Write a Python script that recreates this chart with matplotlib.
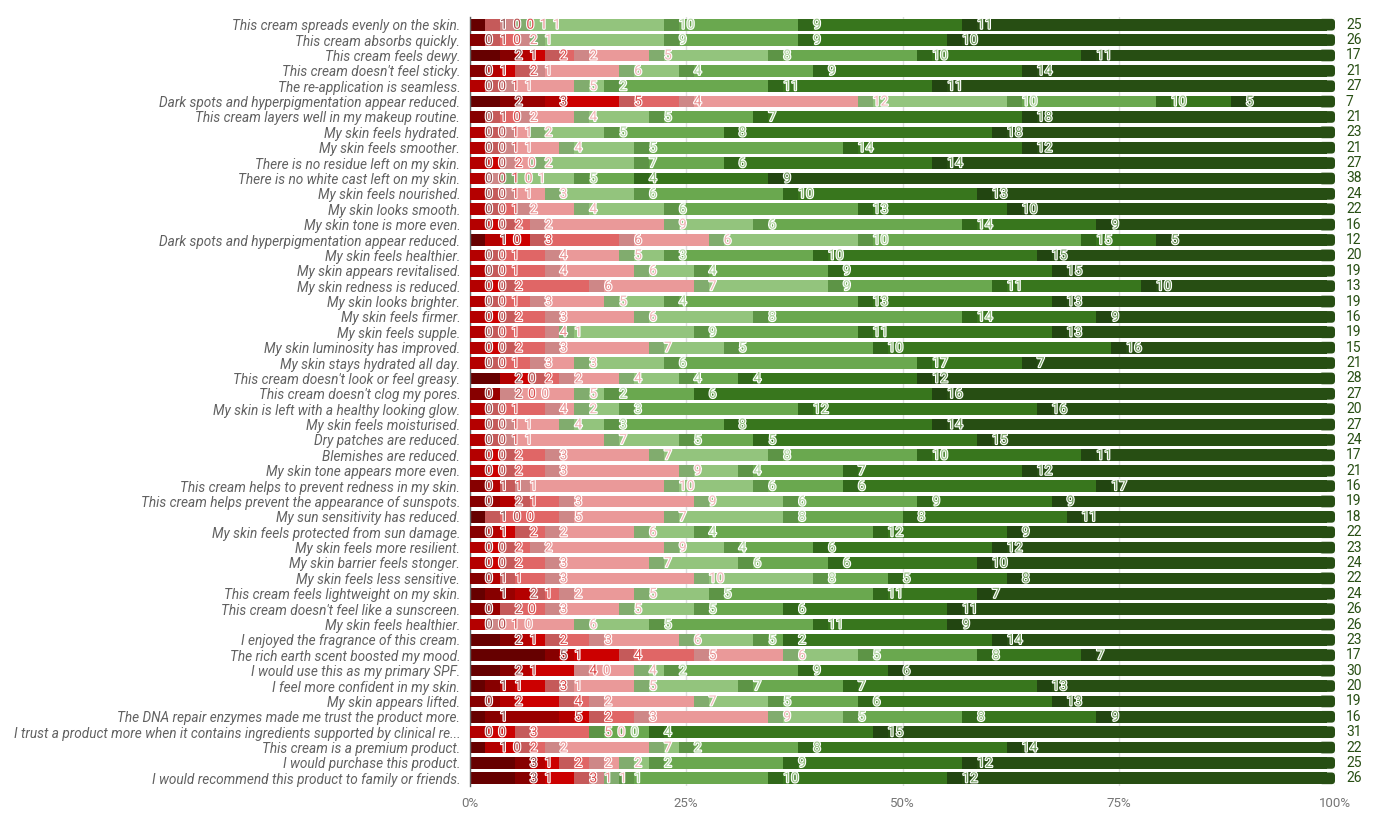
import numpy as np
import matplotlib.pyplot as plt
import matplotlib.patheffects as pe
from matplotlib.colors import to_rgb
from matplotlib.patches import FancyBboxPatch

plt.rcParams['font.family'] = ['Roboto', 'DejaVu Sans']

# statements, top to bottom
statements = [
    "This cream spreads evenly on the skin.",
    "This cream absorbs quickly.",
    "This cream feels dewy.",
    "This cream doesn't feel sticky.",
    "The re-application is seamless.",
    "Dark spots and hyperpigmentation appear reduced.",
    "This cream layers well in my makeup routine.",
    "My skin feels hydrated.",
    "My skin feels smoother.",
    "There is no residue left on my skin.",
    "There is no white cast left on my skin.",
    "My skin feels nourished.",
    "My skin looks smooth.",
    "My skin tone is more even.",
    "Dark spots and hyperpigmentation appear reduced.",
    "My skin feels healthier.",
    "My skin appears revitalised.",
    "My skin redness is reduced.",
    "My skin looks brighter.",
    "My skin feels firmer.",
    "My skin feels supple.",
    "My skin luminosity has improved.",
    "My skin stays hydrated all day.",
    "This cream doesn't look or feel greasy.",
    "This cream doesn't clog my pores.",
    "My skin is left with a healthy looking glow.",
    "My skin feels moisturised.",
    "Dry patches are reduced.",
    "Blemishes are reduced.",
    "My skin tone appears more even.",
    "This cream helps to prevent redness in my skin.",
    "This cream helps prevent the appearance of sunspots.",
    "My sun sensitivity has reduced.",
    "My skin feels protected from sun damage.",
    "My skin feels more resilient.",
    "My skin barrier feels stonger.",
    "My skin feels less sensitive.",
    "This cream feels lightweight on my skin.",
    "This cream doesn't feel like a sunscreen.",
    "My skin feels healthier.",
    "I enjoyed the fragrance of this cream.",
    "The rich earth scent boosted my mood.",
    "I would use this as my primary SPF.",
    "I feel more confident in my skin.",
    "My skin appears lifted.",
    "The DNA repair enzymes made me trust the product more.",
    "I trust a product more when it contains ingredients supported by clinical re...",
    "This cream is a premium product.",
    "I would purchase this product.",
    "I would recommend this product to family or friends.",
]

# number of answers per score (1 = worst ... 9 = best), one value per statement
score_1 = [1, 0, 2, 0, 0, 2, 0, 0, 0, 0, 0, 0, 0, 0, 1, 0, 0, 0, 0, 0, 0, 0, 0, 2, 0,
           0, 0, 0, 0, 0, 0, 0, 1, 0, 0, 0, 0, 1, 0, 0, 2, 5, 2, 1, 0, 1, 0, 1, 3, 3]
score_2 = [0, 1, 1, 1, 0, 3, 1, 0, 0, 0, 0, 0, 0, 0, 0, 0, 0, 0, 0, 0, 0, 0, 0, 0, 2,
           0, 0, 0, 0, 0, 1, 2, 0, 1, 0, 0, 1, 2, 2, 0, 1, 1, 1, 1, 2, 5, 0, 0, 1, 1]
score_3 = [0, 0, 2, 2, 1, 5, 0, 1, 1, 2, 1, 1, 1, 2, 3, 1, 1, 2, 1, 2, 1, 2, 1, 2, 0,
           1, 1, 1, 2, 2, 1, 1, 0, 2, 2, 2, 1, 1, 0, 1, 2, 4, 4, 3, 4, 2, 3, 2, 2, 3]
score_4 = [1, 2, 2, 1, 1, 4, 2, 1, 1, 0, 0, 1, 2, 2, 6, 4, 4, 6, 3, 3, 4, 3, 3, 2, 0,
           4, 1, 1, 3, 3, 1, 3, 5, 2, 2, 3, 3, 2, 3, 0, 3, 5, 0, 1, 2, 3, 5, 2, 2, 1]
score_5 = [1, 1, 5, 6, 5, 12, 4, 2, 4, 2, 1, 3, 4, 9, 6, 5, 6, 7, 5, 6, 1, 7, 3, 4, 5,
           2, 4, 7, 7, 9, 10, 9, 7, 6, 9, 7, 10, 5, 5, 6, 6, 6, 4, 5, 7, 9, 0, 7, 2, 1]
score_6 = [10, 9, 8, 4, 2, 10, 5, 5, 5, 7, 5, 6, 6, 6, 10, 3, 4, 9, 4, 8, 9, 5, 6, 4, 2,
           3, 3, 5, 8, 4, 6, 6, 8, 4, 4, 6, 8, 5, 5, 5, 5, 5, 2, 7, 5, 5, 0, 2, 2, 1]
score_7 = [9, 9, 10, 9, 11, 10, 7, 8, 14, 6, 4, 10, 13, 14, 15, 10, 9, 11, 13, 14, 11, 10, 17, 4, 6,
           12, 8, 5, 10, 7, 6, 9, 8, 12, 6, 6, 5, 11, 6, 11, 2, 8, 9, 7, 6, 8, 4, 8, 9, 10]
score_8 = [11, 10, 11, 14, 11, 5, 18, 18, 12, 14, 9, 13, 10, 9, 5, 15, 15, 10, 13, 9, 13, 16, 7, 12, 16,
           16, 14, 15, 11, 12, 17, 9, 11, 9, 12, 10, 8, 7, 11, 9, 14, 7, 6, 13, 13, 9, 15, 14, 12, 12]
score_9 = [25, 26, 17, 21, 27, 7, 21, 23, 21, 27, 38, 24, 22, 16, 12, 20, 19, 13, 19, 16, 19, 15, 21, 28, 27,
           20, 27, 24, 17, 21, 16, 19, 18, 22, 23, 24, 22, 24, 26, 26, 23, 17, 30, 20, 19, 16, 31, 22, 25, 26]

x_ticks = [0, 25, 50, 75, 100]
x_tick_labels = ["0%", "25%", "50%", "75%", "100%"]

colors = ['#660000', '#990000', '#cc0000', '#e06666', '#ea9999',
          '#93c47d', '#6aa84f', '#38761d', '#274e13']


def shade(c, f):
    # f > 0 mixes towards white, f < 0 towards black
    r, g, b = to_rgb(c)
    if f >= 0:
        return (r + (1 - r) * f, g + (1 - g) * f, b + (1 - b) * f)
    return (r * (1 + f), g * (1 + f), b * (1 + f))


counts = np.array([score_1, score_2, score_3, score_4, score_5,
                   score_6, score_7, score_8, score_9], dtype=float).T
shares = counts / counts.sum(axis=1, keepdims=True) * 100
n, k = counts.shape

W, H = 1377, 835
fig = plt.figure(figsize=(W / 100, H / 100), dpi=100)
ax = fig.add_axes([470 / W, 1 - 786 / H, 865 / W, 769 / H])
ax.set_xlim(0, 100)
ax.set_ylim(n - 0.5, -0.5)
px = 100 / 865          # x data units per pixel
py = n / 769            # y data units per pixel
bar_h = 0.76
y = np.arange(n)

# bars (last segment gets a rounded right end)
starts = np.zeros_like(shares)
left = np.zeros(n)
cut = 8 * px
for j in range(k):
    starts[:, j] = left
    w = shares[:, j] - (cut if j == k - 1 else 0)
    ax.barh(y, w, left=left, height=bar_h, color=colors[j],
            linewidth=0, zorder=2)
    left = left + shares[:, j]
ends = starts + shares
for i in range(n):
    ax.add_patch(FancyBboxPatch((100 - 2 * cut, i - bar_h / 2), 2 * cut, bar_h,
                                boxstyle=f"round,pad=0,rounding_size={3.5 * px}",
                                mutation_aspect=py / px, facecolor=colors[-1],
                                linewidth=0, zorder=2))

# darker strips right after every boundary (where the label sits)
strip = 15 * px
for i in range(n):
    for b in ends[i, :-1]:
        a0, a1 = b, min(b + strip, 100)
        for j in range(k):
            s0, s1 = max(a0, starts[i, j]), min(a1, ends[i, j])
            if s1 > s0:
                ax.barh(i, s1 - s0, left=s0, height=bar_h, color=shade(colors[j], -0.12),
                        linewidth=0, zorder=3)

# data labels, pushed to the right when they would overlap
fig.canvas.draw()
renderer = fig.canvas.get_renderer()
widths = {}
for v in range(0, 60):
    t = ax.text(0, 0, str(v), fontsize=10)
    widths[v] = t.get_window_extent(renderer).width
    t.remove()

halo = [pe.withStroke(linewidth=1.6, foreground='white')]
for i in range(n):
    prev_right = -1e9
    for j in range(k):
        v = int(counts[i, j])
        end_px = ends[i, j] / px
        off = 11 if j == k - 1 else 15
        lx = max(end_px + off, prev_right + 5.5)
        prev_right = lx + widths[v]
        if j == k - 1:
            ax.text(lx * px, i, str(v), fontsize=10, color=colors[j],
                    ha='left', va='center', zorder=5)
        else:
            ax.text(lx * px, i, str(v), fontsize=10, color=shade(colors[j], 0.3),
                    ha='left', va='center', zorder=5, path_effects=halo)

# axes styling
ax.set_yticks(y)
ax.set_yticklabels(statements, fontstyle='italic', color='#616161', fontsize=9.8)
ax.set_xticks(x_ticks)
ax.set_xticklabels(x_tick_labels, color='#757575', fontsize=9.5)
ax.tick_params(axis='y', length=0, pad=7)
ax.tick_params(axis='x', length=0, pad=8)
ax.xaxis.grid(True, color='#dedede', linewidth=1)
ax.set_axisbelow(True)
for s in ['top', 'right', 'bottom']:
    ax.spines[s].set_visible(False)
ax.spines['left'].set_color('#616161')
ax.spines['left'].set_linewidth(1)

fig.savefig('out.png', dpi=100)
